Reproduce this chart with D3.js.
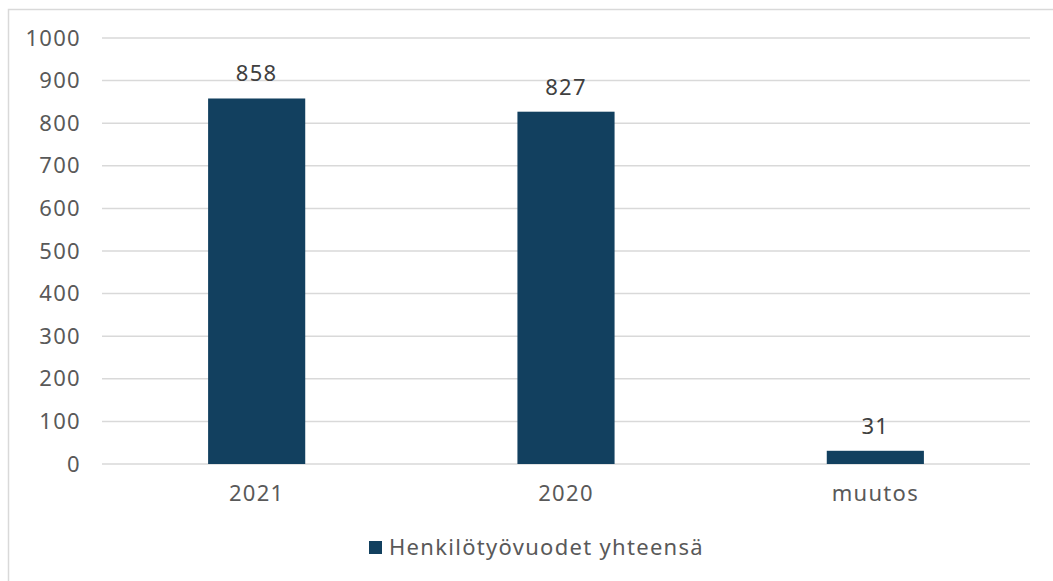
<!DOCTYPE html>
<html>
<head>
<meta charset="utf-8">
<script src="https://cdn.jsdelivr.net/npm/d3@7"></script>
<style>
  body { margin: 0; background: #fff; }
  text { font-family: "Noto Sans", sans-serif; letter-spacing: 1.3px; }
</style>
</head>
<body>
<div id="chart"></div>
<script>
// chart data
var categories = ["2021", "2020", "muutos"];
var values = [858, 827, 31];
var yTicks = [0, 100, 200, 300, 400, 500, 600, 700, 800, 900, 1000];
var seriesName = "Henkilötyövuodet yhteensä";

var svgWidth = 1053;
var svgHeight = 581;

var margin = { top: 38, right: 23, bottom: 117, left: 102 };
var width = svgWidth - margin.left - margin.right;
var height = svgHeight - margin.top - margin.bottom;

var barColor = "#12405f";
var fontSize = "22px";

var svg = d3.select("#chart")
    .append("svg")
    .attr("width", svgWidth)
    .attr("height", svgHeight);

// outer border
svg.append("rect")
    .attr("x", 8.5)
    .attr("y", 9.5)
    .attr("width", svgWidth + 10)
    .attr("height", svgHeight + 10)
    .attr("fill", "none")
    .attr("stroke", "#d9d9d9")
    .attr("stroke-width", 1.5);

var chartGroup = svg.append("g")
    .attr("transform", `translate(${margin.left}, ${margin.top})`);

var xScale = d3.scaleBand()
    .domain(categories)
    .range([0, width])
    .paddingInner(0.686)
    .paddingOuter(0.343);

var yScale = d3.scaleLinear()
    .domain([0, 1000])
    .range([height, 0]);

// gridlines
chartGroup.append("g")
    .selectAll("line")
    .data(yTicks)
    .enter()
    .append("line")
    .attr("x1", 0)
    .attr("x2", width)
    .attr("y1", d => yScale(d))
    .attr("y2", d => yScale(d))
    .attr("stroke", "#d9d9d9")
    .attr("stroke-width", 1.5);

// y axis labels
var leftAxis = d3.axisLeft(yScale)
    .tickValues(yTicks)
    .tickFormat(d3.format("d"))
    .tickSize(0)
    .tickPadding(21);

var yAxis = chartGroup.append("g").call(leftAxis);
yAxis.select(".domain").remove();
yAxis.selectAll("text")
    .attr("fill", "#595959")
    .attr("font-size", fontSize)
    .style("font-family", '"Noto Sans", sans-serif');

// bars
chartGroup.append("g")
    .selectAll("rect")
    .data(values)
    .enter()
    .append("rect")
    .attr("x", (d, i) => xScale(categories[i]))
    .attr("y", d => yScale(d))
    .attr("width", xScale.bandwidth())
    .attr("height", d => height - yScale(d))
    .attr("fill", barColor);

// data labels
chartGroup.append("g")
    .selectAll("text")
    .data(values)
    .enter()
    .append("text")
    .attr("x", (d, i) => xScale(categories[i]) + xScale.bandwidth() / 2)
    .attr("y", d => yScale(d) - 17)
    .attr("text-anchor", "middle")
    .attr("fill", "#404040")
    .attr("font-size", fontSize)
    .text(d => d);

// x axis labels
var bottomAxis = d3.axisBottom(xScale)
    .tickSize(0)
    .tickPadding(21);

var xAxis = chartGroup.append("g")
    .attr("transform", `translate(0, ${height})`)
    .call(bottomAxis);
xAxis.select(".domain").remove();
xAxis.selectAll("text")
    .attr("fill", "#595959")
    .attr("font-size", fontSize)
    .style("font-family", '"Noto Sans", sans-serif');

// legend
var legend = svg.append("g")
    .attr("transform", "translate(369, 541)");
legend.append("rect")
    .attr("width", 13)
    .attr("height", 13)
    .attr("fill", barColor);
legend.append("text")
    .attr("x", 20)
    .attr("y", 14)
    .attr("fill", "#595959")
    .attr("font-size", fontSize)
    .text(seriesName);
</script>
</body>
</html>
